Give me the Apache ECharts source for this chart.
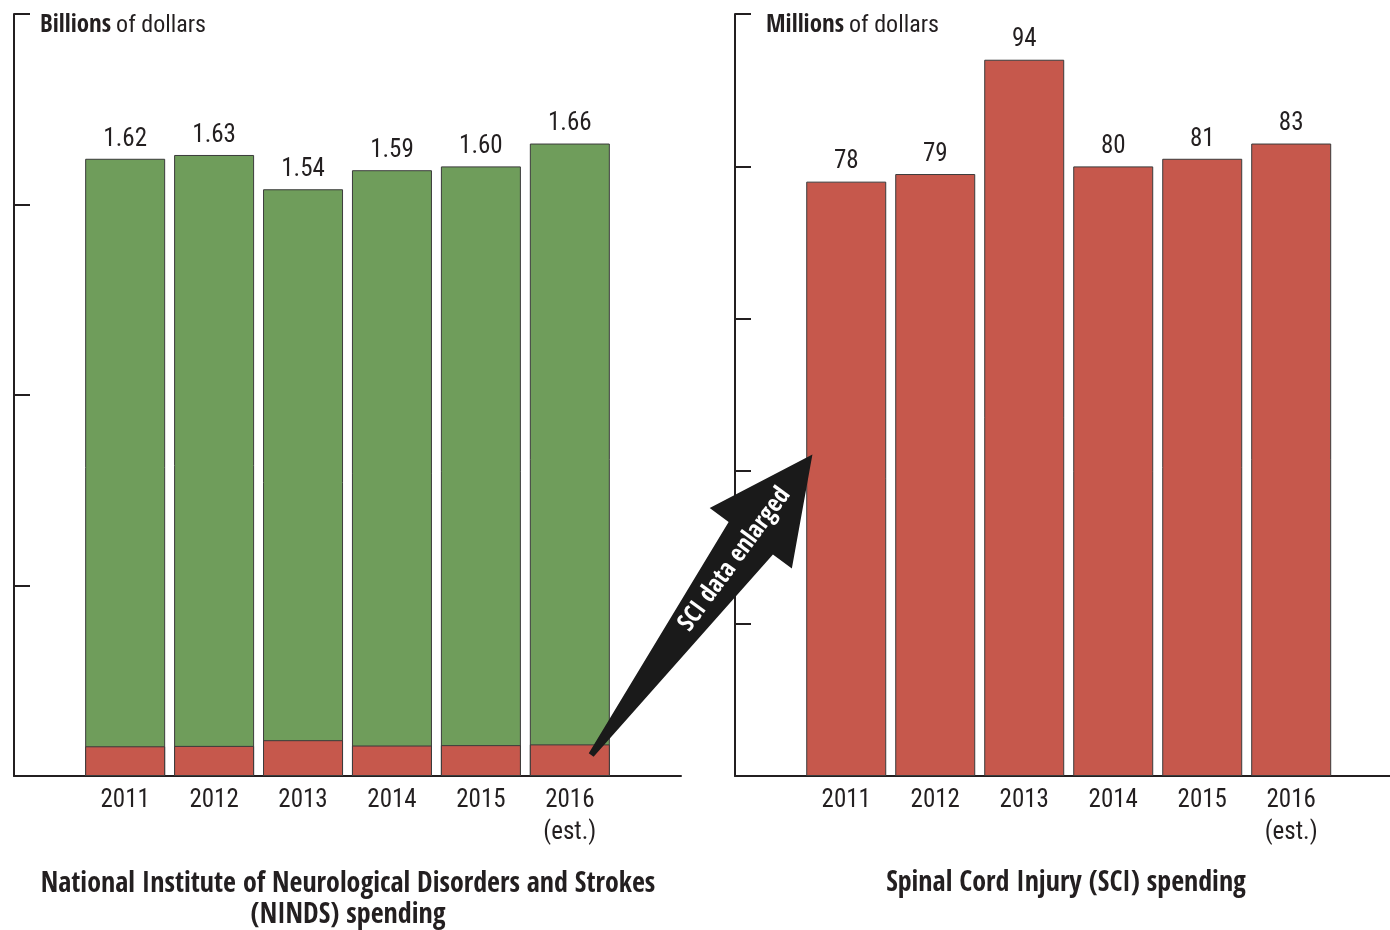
<!DOCTYPE html>
<html>
<head>
<meta charset="utf-8">
<script src="https://cdn.jsdelivr.net/npm/echarts@6/dist/echarts.min.js"></script>
<style>
  html, body { margin: 0; padding: 0; background: #fff; }
  #chart { width: 1390px; height: 930px; }
</style>
</head>
<body>
<div id="chart"></div>
<script>
// Fiscal years shown under both panels
const years = ['2011', '2012', '2013', '2014', '2015', '2016\n(est.)'];
// Total NINDS spending, billions of dollars
const nindsTotal = [1.62, 1.63, 1.54, 1.59, 1.60, 1.66];
// Spinal cord injury spending, millions of dollars
const sciMillions = [78, 79, 94, 80, 81, 83];

const FONT = '"Roboto Condensed", "Open Sans Condensed", sans-serif';
const BOLD = '"Open Sans Condensed", "Roboto Condensed", sans-serif';
const INK = '#231f20';
const RED = '#c6584c';
const GREEN = '#6f9d5b';

const xIdx = years.map((_, i) => i);
const sciBillions = sciMillions.map(v => v / 1000);

const chart = echarts.init(document.getElementById('chart'), null, { renderer: 'canvas' });

function xAxisCfg(gridIndex, max) {
  return {
    type: 'value', gridIndex, min: -1.25, max,
    axisLine: { show: true, onZero: false, lineStyle: { color: INK, width: 2 } },
    axisTick: { show: false },
    splitLine: { show: false },
    axisLabel: {
      customValues: xIdx,
      formatter: v => years[Math.round(v)] || '',
      color: INK, fontFamily: FONT, fontSize: 25, lineHeight: 32, margin: 9
    }
  };
}
function yAxisCfg(gridIndex, max, interval) {
  return {
    type: 'value', gridIndex, min: 0, max, interval,
    axisLine: { show: true, onZero: false, lineStyle: { color: INK, width: 2 } },
    axisTick: { show: true, inside: true, length: 16, lineStyle: { color: INK, width: 2 } },
    axisLabel: { show: false },
    splitLine: { show: false }
  };
}

function unitTitle(left, strong) {
  return {
    left, top: 13, padding: 0,
    text: '{b|' + strong + '} {r|of dollars}',
    textStyle: { fontWeight: 'normal', rich: {
      b: { fontFamily: BOLD, fontWeight: 'bold', fontSize: 25, color: INK },
      r: { fontFamily: FONT, fontWeight: 'normal', fontSize: 24, color: INK }
    } }
  };
}

const border = { borderColor: '#3b3b3b', borderWidth: 1 };
const labelStyle = { show: true, position: 'top', distance: 7, color: INK, fontFamily: FONT, fontSize: 25 };

chart.setOption({
  animation: false,
  backgroundColor: '#fff',
  title: [unitTitle(40, 'Billions'), unitTitle(766, 'Millions')],
  grid: [
    { left: 14, top: 14, width: 667, height: 762 },
    { left: 735, top: 14, width: 655, height: 762 }
  ],
  xAxis: [xAxisCfg(0, 6.25), xAxisCfg(1, 6.11)],
  yAxis: [yAxisCfg(0, 2, 0.5), yAxisCfg(1, 100, 20)],
  series: [
    {
      type: 'bar', name: 'NINDS', xAxisIndex: 0, yAxisIndex: 0, barWidth: 80, barGap: '-100%',
      itemStyle: Object.assign({ color: GREEN }, border),
      label: Object.assign({}, labelStyle, { formatter: p => nindsTotal[p.dataIndex].toFixed(2) }),
      data: nindsTotal.map((v, i) => [xIdx[i], v])
    },
    {
      type: 'bar', name: 'SCI', xAxisIndex: 0, yAxisIndex: 0, barWidth: 80, barGap: '-100%',
      itemStyle: Object.assign({ color: RED }, border),
      data: sciBillions.map((v, i) => [xIdx[i], v])
    },
    {
      type: 'bar', name: 'SCI spending', xAxisIndex: 1, yAxisIndex: 1, barWidth: 80,
      itemStyle: Object.assign({ color: RED }, border),
      label: Object.assign({}, labelStyle, { formatter: p => String(sciMillions[p.dataIndex]) }),
      data: sciMillions.map((v, i) => [xIdx[i], v])
    }
  ]
});

// Arrow linking the small SCI slice on the left to the enlarged panel on the right
const tail = chart.convertToPixel({ gridIndex: 0 }, [5.24, 0.055]);
const tip = chart.convertToPixel({ gridIndex: 1 }, [-0.38, 42.2]);
const dx = tip[0] - tail[0], dy = tip[1] - tail[1];
const len = Math.sqrt(dx * dx + dy * dy);
const ux = dx / len, uy = dy / len;
const vx = uy, vy = -ux;
const pt = (u, v) => [tail[0] + ux * u + vx * v, tail[1] + uy * u + vy * v];
const headStart = len - 104;
const arrowPts = [
  pt(0, 3), pt(headStart, 27.5), pt(headStart, 51), pt(len, 0),
  pt(headStart, -51), pt(headStart, -27.5), pt(0, -3)
];
const textPos = pt(len * 0.65, 0);

chart.setOption({
  graphic: [
    { type: 'polygon', shape: { points: arrowPts }, style: { fill: '#1a1a1a' }, z: 10 },
    {
      type: 'text', x: textPos[0], y: textPos[1], rotation: Math.atan2(-dy, dx), z: 11,
      style: { text: 'SCI data enlarged', fill: '#fff', font: 'bold 25px ' + BOLD,
        textAlign: 'center', textVerticalAlign: 'middle' }
    },
    {
      type: 'text', x: 348, y: 900, z: 5,
      style: { text: 'National Institute of Neurological Disorders and Strokes\n(NINDS) spending',
        fill: INK, font: 'bold 28px ' + BOLD, lineHeight: 31,
        textAlign: 'center', textVerticalAlign: 'middle' }
    },
    {
      type: 'text', x: 1066, y: 884, z: 5,
      style: { text: 'Spinal Cord Injury (SCI) spending', fill: INK, font: 'bold 28px ' + BOLD,
        textAlign: 'center', textVerticalAlign: 'middle' }
    }
  ]
});
</script>
</body>
</html>
